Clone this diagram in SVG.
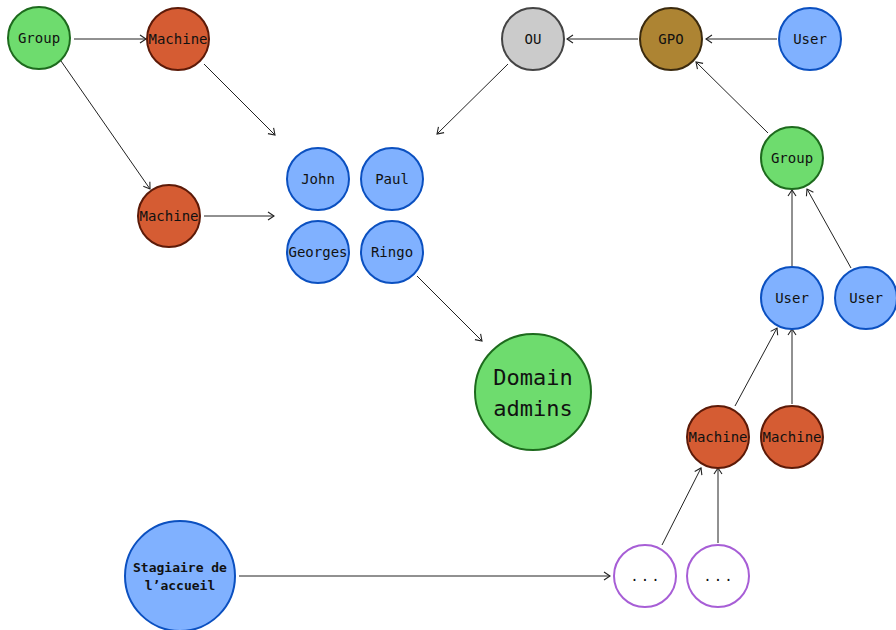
<svg xmlns="http://www.w3.org/2000/svg" width="896" height="630" viewBox="0 0 896 630">
<defs>
<marker id="arr" markerWidth="10" markerHeight="10" refX="8" refY="5" orient="auto" markerUnits="userSpaceOnUse">
<path d="M2,1 L8,5 L2,9" fill="none" stroke="#222" stroke-width="1.1"/>
</marker>
<style>
text{font-family:"DejaVu Sans Mono",monospace;font-size:14px;fill:#111;text-anchor:middle;dominant-baseline:central}
.n{stroke-width:2}
.grp{fill:#6edc6e;stroke:#1d6a1d}
.mac{fill:#d55c33;stroke:#5c1a08}
.usr{fill:#80b1ff;stroke:#0b50c0}
.ou{fill:#cbcbcb;stroke:#444}
.gpo{fill:#ad8433;stroke:#3b2a0e}
.dot{fill:#fff;stroke:#a75ed6}
.dots{letter-spacing:2px}
#edges line{stroke:#222;stroke-width:1;marker-end:url(#arr)}
</style>
</defs>
<rect width="896" height="630" fill="#fff"/>
<g id="edges">
<line x1="74" y1="39" x2="146" y2="39"/>
<line x1="61" y1="61" x2="150" y2="189"/>
<line x1="204" y1="64" x2="275" y2="135"/>
<line x1="204" y1="216" x2="274" y2="216"/>
<line x1="508" y1="64" x2="437" y2="134"/>
<line x1="638" y1="39" x2="567" y2="39"/>
<line x1="777" y1="39" x2="706" y2="39"/>
<line x1="768" y1="133" x2="696" y2="62"/>
<line x1="792" y1="266" x2="792" y2="190"/>
<line x1="851" y1="268" x2="807" y2="189"/>
<line x1="735" y1="406" x2="777" y2="328"/>
<line x1="792" y1="404" x2="792" y2="329"/>
<line x1="417" y1="276" x2="482" y2="341"/>
<line x1="662" y1="545" x2="701" y2="468"/>
<line x1="718" y1="543" x2="718" y2="468"/>
<line x1="239" y1="576" x2="610" y2="576"/>
</g>
<g id="group1"><circle class="n grp" cx="39" cy="38" r="31"/><text x="39" y="38">Group</text></g>
<g id="machine1"><circle class="n mac" cx="178" cy="39" r="31"/><text x="178" y="39">Machine</text></g>
<g id="machine2"><circle class="n mac" cx="169" cy="216" r="31"/><text x="169" y="216">Machine</text></g>
<g id="john"><circle class="n usr" cx="318" cy="179" r="31"/><text x="318" y="179">John</text></g>
<g id="paul"><circle class="n usr" cx="392" cy="179" r="31"/><text x="392" y="179">Paul</text></g>
<g id="georges"><circle class="n usr" cx="318" cy="252" r="31"/><text x="318" y="252">Georges</text></g>
<g id="ringo"><circle class="n usr" cx="392" cy="252" r="31"/><text x="392" y="252">Ringo</text></g>
<g id="domainadmins"><circle class="n grp" cx="533" cy="392" r="58"/><text x="533" y="377" style="font-size:22px">Domain</text><text x="533" y="408" style="font-size:22px">admins</text></g>
<g id="ou"><circle class="n ou" cx="533" cy="39" r="31"/><text x="533" y="39">OU</text></g>
<g id="gpo"><circle class="n gpo" cx="671" cy="39" r="31"/><text x="671" y="39">GPO</text></g>
<g id="user1"><circle class="n usr" cx="810" cy="39" r="31"/><text x="810" y="39">User</text></g>
<g id="group2"><circle class="n grp" cx="792" cy="158" r="31"/><text x="792" y="158">Group</text></g>
<g id="user2"><circle class="n usr" cx="792" cy="298" r="31"/><text x="792" y="298">User</text></g>
<g id="user3"><circle class="n usr" cx="866" cy="298" r="31"/><text x="866" y="298">User</text></g>
<g id="machine3"><circle class="n mac" cx="718" cy="437" r="31"/><text x="718" y="437">Machine</text></g>
<g id="machine4"><circle class="n mac" cx="792" cy="437" r="31"/><text x="792" y="437">Machine</text></g>
<g id="dots1"><circle class="n dot" cx="645" cy="576" r="31"/><text class="dots" x="646" y="576">...</text></g>
<g id="dots2"><circle class="n dot" cx="718" cy="576" r="31"/><text class="dots" x="719" y="576">...</text></g>
<g id="stagiaire"><circle class="n usr" cx="180" cy="576" r="55"/><text x="180" y="567" style="font-weight:bold;font-size:13px">Stagiaire de</text><text x="180" y="585" style="font-weight:bold;font-size:13px">l’accueil</text></g>
</svg>
